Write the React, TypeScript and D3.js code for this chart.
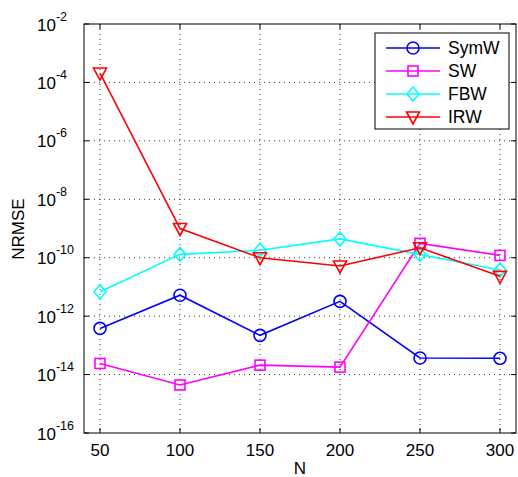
import React, { useEffect, useRef } from 'react';
import * as d3 from 'd3';

const nValues = [50, 100, 150, 200, 250, 300];
const xTicks = [50, 100, 150, 200, 250, 300];
const yTickExps = [-2, -4, -6, -8, -10, -12, -14, -16];

const symW = [3.8e-13, 5.2e-12, 2.2e-13, 3.2e-12, 3.7e-14, 3.6e-14];
const sw = [2.4e-14, 4.4e-15, 2.1e-14, 1.8e-14, 3.1e-10, 1.2e-10];
const fbw = [6.8e-12, 1.3e-10, 1.8e-10, 4.4e-10, 1.3e-10, 3.8e-11];
const irw = [2.1e-4, 1.0e-9, 1.0e-10, 5.2e-11, 2.2e-10, 2.3e-11];

const seriesNames = ['SymW', 'SW', 'FBW', 'IRW'];
const seriesColors = ['#0000ff', '#ff00ff', '#00ffff', '#ff0000'];
const seriesMarkers = ['circle', 'square', 'diamond', 'triangle'];
const seriesValues = [symW, sw, fbw, irw];

const FONT = 'Liberation Sans, Arial, Helvetica, sans-serif';

function drawMarker(g: d3.Selection<SVGGElement, unknown, null, undefined>, kind: string, x: number, y: number, color: string) {
  if (kind === 'circle') {
    g.append('circle').attr('cx', x).attr('cy', y).attr('r', 6)
      .attr('fill', 'none').attr('stroke', color).attr('stroke-width', 1.6);
  } else if (kind === 'square') {
    g.append('rect').attr('x', x - 5).attr('y', y - 5).attr('width', 10).attr('height', 10)
      .attr('fill', 'none').attr('stroke', color).attr('stroke-width', 1.6);
  } else if (kind === 'diamond') {
    g.append('path').attr('d', `M${x},${y - 7}L${x + 6},${y}L${x},${y + 7}L${x - 6},${y}Z`)
      .attr('fill', 'none').attr('stroke', color).attr('stroke-width', 1.6);
  } else {
    g.append('path').attr('d', `M${x - 6.5},${y - 5}L${x + 6.5},${y - 5}L${x},${y + 7}Z`)
      .attr('fill', 'none').attr('stroke', color).attr('stroke-width', 1.6);
  }
}

export default function App() {
  const svgRef = useRef<SVGSVGElement>(null);

  useEffect(() => {
    if (!svgRef.current) return;
    const width = 518;
    const height = 477;
    const left = 84, right = 516, top = 24, bottom = 433;

    const svg = d3.select(svgRef.current);
    svg.selectAll('*').remove();

    const x = d3.scaleLinear().domain([40, 310]).range([left, right]);
    const y = d3.scaleLog().domain([1e-16, 1e-2]).range([bottom, top]);

    svg.append('rect').attr('width', width).attr('height', height).attr('fill', '#fff');

    // grid
    const grid = svg.append('g').attr('stroke', '#000').attr('stroke-width', 0.8).attr('stroke-dasharray', '1,4');
    xTicks.forEach(t => {
      grid.append('line').attr('x1', x(t)).attr('x2', x(t)).attr('y1', top).attr('y2', bottom);
    });
    yTickExps.slice(1, -1).forEach(e => {
      grid.append('line').attr('x1', left).attr('x2', right).attr('y1', y(Math.pow(10, e))).attr('y2', y(Math.pow(10, e)));
    });

    // series
    const line = d3.line<number>().x((_, i) => x(nValues[i])).y(d => y(d));
    seriesValues.forEach((vals, k) => {
      const g = svg.append('g');
      g.append('path').attr('d', line(vals)).attr('fill', 'none')
        .attr('stroke', seriesColors[k]).attr('stroke-width', 1.6);
      vals.forEach((v, i) => drawMarker(g, seriesMarkers[k], x(nValues[i]), y(v), seriesColors[k]));
    });

    // frame + ticks
    const ax = svg.append('g').attr('stroke', '#000').attr('stroke-width', 1);
    ax.append('rect').attr('x', left).attr('y', top).attr('width', right - left).attr('height', bottom - top)
      .attr('fill', 'none');
    xTicks.forEach(t => {
      ax.append('line').attr('x1', x(t)).attr('x2', x(t)).attr('y1', bottom).attr('y2', bottom - 5);
      ax.append('line').attr('x1', x(t)).attr('x2', x(t)).attr('y1', top).attr('y2', top + 5);
    });
    yTickExps.forEach(e => {
      const yy = y(Math.pow(10, e));
      ax.append('line').attr('x1', left).attr('x2', left + 5).attr('y1', yy).attr('y2', yy);
      ax.append('line').attr('x1', right).attr('x2', right - 5).attr('y1', yy).attr('y2', yy);
    });

    // tick labels
    const lbl = svg.append('g').attr('font-family', FONT).attr('fill', '#000');
    xTicks.forEach(t => {
      lbl.append('text').attr('x', x(t)).attr('y', 456).attr('text-anchor', 'middle')
        .attr('font-size', 17).text(String(t));
    });
    yTickExps.forEach(e => {
      const yy = y(Math.pow(10, e));
      const t = lbl.append('text').attr('x', 37).attr('y', yy + 6.5).attr('font-size', 17);
      t.append('tspan').text('10');
      t.append('tspan').attr('dy', -10).attr('font-size', 12.5).text(`-${-e}`);
    });

    lbl.append('text').attr('x', (left + right) / 2).attr('y', 474).attr('text-anchor', 'middle')
      .attr('font-size', 17).text('N');
    lbl.append('text').attr('transform', `translate(24,229) rotate(-90)`).attr('text-anchor', 'middle')
      .attr('font-size', 17).text('NRMSE');

    // legend
    const lg = svg.append('g');
    lg.append('rect').attr('x', 375).attr('y', 33).attr('width', 134).attr('height', 96)
      .attr('fill', '#fff').attr('stroke', '#000').attr('stroke-width', 1);
    seriesNames.forEach((name, k) => {
      const ly = 48 + k * 23;
      lg.append('line').attr('x1', 386).attr('x2', 440).attr('y1', ly).attr('y2', ly)
        .attr('stroke', seriesColors[k]).attr('stroke-width', 1.6);
      drawMarker(lg, seriesMarkers[k], 413, ly, seriesColors[k]);
      lg.append('text').attr('x', 448).attr('y', ly + 6).attr('font-family', FONT)
        .attr('font-size', 17.5).text(name);
    });
  }, []);

  return (
    <svg ref={svgRef} width={518} height={477}
      style={{ position: 'absolute', left: 0, top: 0, display: 'block' }} />
  );
}
